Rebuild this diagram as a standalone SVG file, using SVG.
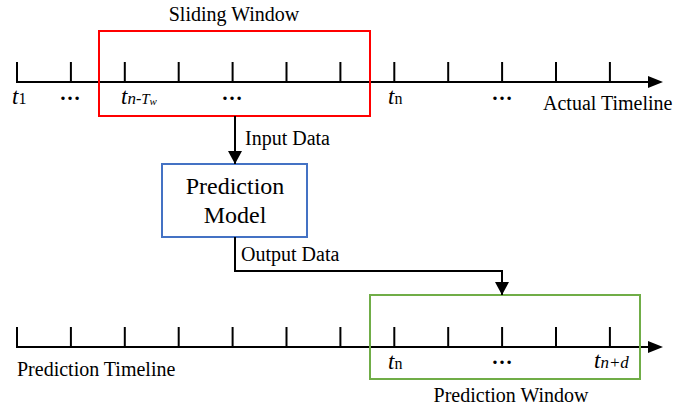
<svg xmlns="http://www.w3.org/2000/svg" width="677" height="410" viewBox="0 0 677 410">
  <style>
    .axis { stroke: #000; stroke-width: 2; fill: none; }
    .tick { stroke: #000; stroke-width: 2; }
    .conn { stroke: #000; stroke-width: 2; fill: none; }
    .lbl { font-family: "Liberation Serif", "Times New Roman", serif; fill: #000; }
    .txt { font-size: 20px; }
    .t { font-style: italic; font-size: 23px; }
    .sub { font-size: 16px; }
    .dots { font-weight: bold; font-size: 21px; text-anchor: middle; }
  </style>
  <defs>
    <marker id="arrow" viewBox="0 0 13 14" refX="13" refY="7" markerWidth="13" markerHeight="14" markerUnits="userSpaceOnUse" orient="auto">
      <path d="M0,0 L13,7 L0,14 Z" fill="#000"/>
    </marker>
    <g id="tickRow">
      <line class="tick" x1="17" y1="0" x2="17" y2="20"/>
      <line class="tick" x1="70.9" y1="0" x2="70.9" y2="20"/>
      <line class="tick" x1="124.8" y1="0" x2="124.8" y2="20"/>
      <line class="tick" x1="178.7" y1="0" x2="178.7" y2="20"/>
      <line class="tick" x1="232.6" y1="0" x2="232.6" y2="20"/>
      <line class="tick" x1="286.5" y1="0" x2="286.5" y2="20"/>
      <line class="tick" x1="340.4" y1="0" x2="340.4" y2="20"/>
      <line class="tick" x1="394.3" y1="0" x2="394.3" y2="20"/>
      <line class="tick" x1="448.2" y1="0" x2="448.2" y2="20"/>
      <line class="tick" x1="502.1" y1="0" x2="502.1" y2="20"/>
      <line class="tick" x1="556" y1="0" x2="556" y2="20"/>
      <line class="tick" x1="609.9" y1="0" x2="609.9" y2="20"/>
    </g>
  </defs>
  <rect width="677" height="410" fill="#fff"/>

  <!-- actual timeline -->
  <g id="actual-timeline">
    <use href="#tickRow" y="62"/>
    <line class="axis" x1="16" y1="82" x2="650" y2="82"/>
    <path d="M663,82 L648,76 L648,88 Z" fill="#000"/>
    <text class="lbl" x="12" y="104"><tspan class="t">t</tspan><tspan class="sub">1</tspan></text>
    <text class="lbl dots" x="70" y="100">…</text>
    <text class="lbl" x="121" y="104"><tspan class="t">t</tspan><tspan font-size="17" font-style="italic">n</tspan><tspan font-size="16">-</tspan><tspan font-size="15" font-style="italic">T</tspan><tspan font-size="11" font-style="italic" dy="1">w</tspan></text>
    <text class="lbl dots" x="232" y="100">…</text>
    <text class="lbl" x="388" y="104"><tspan class="t">t</tspan><tspan class="sub">n</tspan></text>
    <text class="lbl dots" x="502" y="100">…</text>
    <text class="lbl txt" x="543" y="110">Actual Timeline</text>
  </g>

  <!-- sliding window -->
  <g id="sliding-window">
    <rect x="99" y="31" width="271" height="85" fill="none" stroke="#ff0000" stroke-width="2"/>
    <text class="lbl txt" x="234" y="21" text-anchor="middle">Sliding Window</text>
  </g>

  <!-- prediction model -->
  <g id="prediction-model">
    <rect x="162" y="164" width="145" height="73" fill="#fff" stroke="#4472c4" stroke-width="2"/>
    <text class="lbl" x="235" y="194" font-size="24" text-anchor="middle">Prediction</text>
    <text class="lbl" x="235" y="223" font-size="24" text-anchor="middle">Model</text>
  </g>

  <!-- prediction timeline -->
  <g id="prediction-timeline">
    <use href="#tickRow" y="327"/>
    <line class="axis" x1="16" y1="347" x2="650" y2="347"/>
    <path d="M663,347 L648,341 L648,353 Z" fill="#000"/>
    <text class="lbl txt" x="17" y="376">Prediction Timeline</text>
  </g>

  <!-- prediction window -->
  <g id="prediction-window">
    <rect x="370" y="295" width="270" height="84" fill="none" stroke="#70ad47" stroke-width="2"/>
    <text class="lbl" x="388" y="369"><tspan class="t">t</tspan><tspan class="sub">n</tspan></text>
    <text class="lbl dots" x="502" y="364">…</text>
    <text class="lbl" x="594" y="368"><tspan class="t">t</tspan><tspan font-size="17" font-style="italic">n+d</tspan></text>
    <text class="lbl txt" x="511" y="402" text-anchor="middle">Prediction Window</text>
  </g>

  <!-- connectors -->
  <g id="connectors">
    <line class="conn" x1="235" y1="116" x2="235" y2="164" marker-end="url(#arrow)"/>
    <text class="lbl txt" x="245" y="145">Input Data</text>
    <polyline class="conn" points="235,237 235,271 502,271 502,295" marker-end="url(#arrow)"/>
    <text class="lbl txt" x="241" y="261">Output Data</text>
  </g>
</svg>
